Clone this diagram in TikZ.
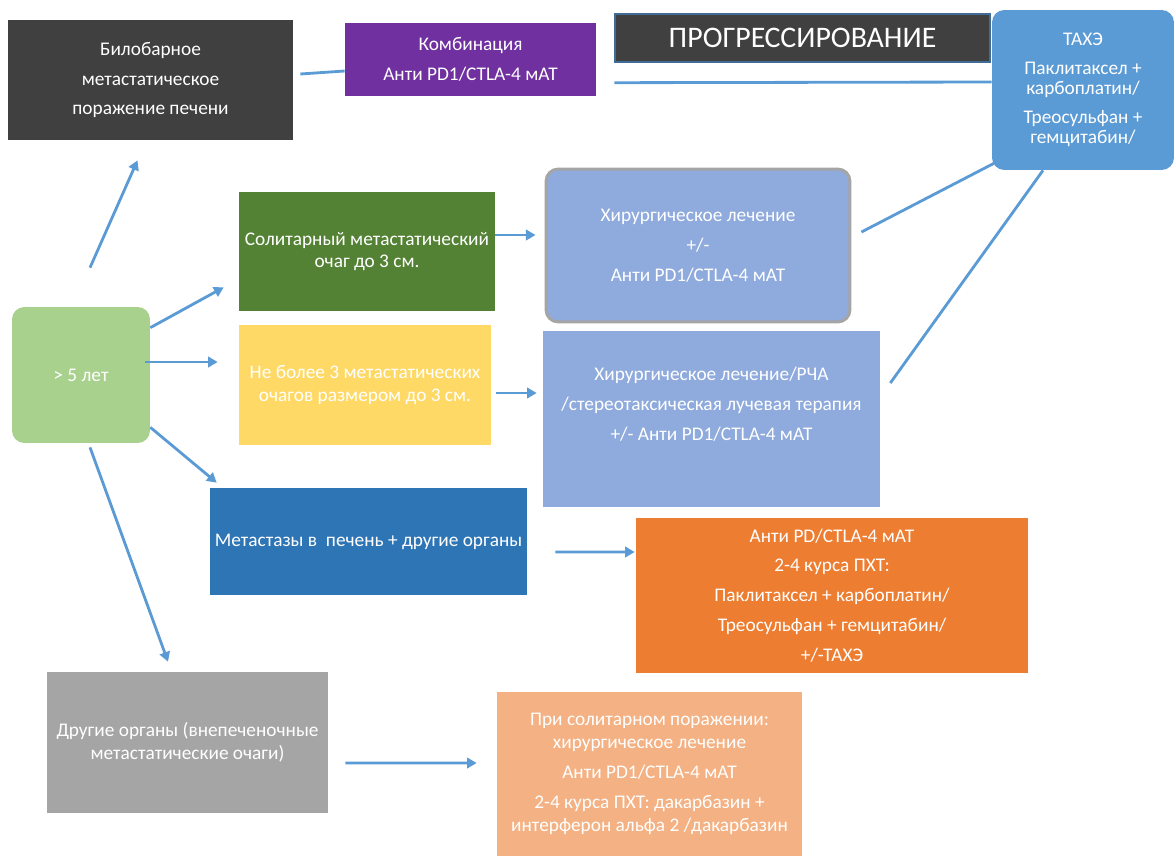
\documentclass[tikz,border=0pt]{standalone}
\usepackage{fontspec}
\setmainfont{Carlito}
\usetikzlibrary{arrows.meta,calc}

\definecolor{darkgrey}{HTML}{404040}
\definecolor{violet}{HTML}{7030A0}
\definecolor{taxeblue}{HTML}{5B9BD5}
\definecolor{lightgreen}{HTML}{A9D18E}
\definecolor{darkgreen}{HTML}{548235}
\definecolor{gold}{HTML}{FFD966}
\definecolor{paleblue}{HTML}{8FAADC}
\definecolor{midblue}{HTML}{2E75B6}
\definecolor{orangebox}{HTML}{ED7D31}
\definecolor{greybox}{HTML}{A5A5A5}
\definecolor{peach}{HTML}{F4B183}
\definecolor{arrowblue}{HTML}{5B9BD5}

\begin{document}
\begin{tikzpicture}[
  x={(0.02cm,0cm)}, y={(0cm,-0.02cm)},
  box/.style={rectangle, inner sep=2pt, align=center, text=white,
    font=\fontsize{11}{13}\selectfont},
  rbox/.style={box, rounded corners=7pt},
  arr/.style={-{Triangle[length=5.5pt,width=6pt]}, line width=1.6pt, arrowblue},
  ln/.style={line width=1.6pt, arrowblue}
]
\useasboundingbox (0,0) rectangle (1176,856);

% --- top row ---
\node[box, fill=darkgrey, minimum width=5.7cm, minimum height=2.4cm] (bilo) at (150.5,80)
  {Билобарное\\[4pt]метастатическое\\[4pt]поражение печени};
\node[box, fill=violet, minimum width=5.02cm, minimum height=1.46cm] (komb) at (470.5,59.5)
  {Комбинация\\[4pt]Анти PD1/CTLA-4 мАТ};
\node[box, fill=darkgrey, draw=taxeblue!70!black, line width=0.8pt,
  minimum width=7.5cm, minimum height=0.96cm, font=\fontsize{17}{19}\selectfont] (prog) at (802.5,38)
  {ПРОГРЕССИРОВАНИЕ};
\node[rbox, fill=taxeblue, minimum width=3.64cm, minimum height=3.2cm,
  font=\fontsize{11}{11.5}\selectfont] (taxe) at (1083,90)
  {ТАХЭ\\[5pt]Паклитаксел +\\карбоплатин/\\[5pt]Треосульфан +\\гемцитабин/};

% --- left column ---
\node[rbox, fill=lightgreen, minimum width=2.76cm, minimum height=2.72cm] (age) at (81,375)
  {> 5 лет};
\node[box, fill=darkgreen, minimum width=5.12cm, minimum height=2.38cm] (soli) at (367,251.5)
  {Солитарный метастатический\\очаг до 3 см.};
\node[box, fill=gold, minimum width=5.04cm, minimum height=2.4cm] (few) at (365,385)
  {Не более 3 метастатических\\очагов размером до 3 см.};
\node[box, fill=midblue, minimum width=6.34cm, minimum height=2.14cm] (meta) at (368.5,541.5)
  {Метастазы в~~печень + другие органы};
\node[box, fill=greybox, minimum width=5.62cm, minimum height=2.82cm] (other) at (187.5,742.5)
  {Другие органы (внепеченочные\\метастатические очаги)};

% --- treatment boxes ---
\node[rbox, fill=paleblue, draw=greybox, line width=1.7pt,
  minimum width=6.08cm, minimum height=3.06cm] (surg) at (698,245.5)
  {Хирургическое лечение\\[4pt]+/-\\[4pt]Анти PD1/CTLA-4 мАТ};
\node[box, fill=paleblue, minimum width=6.74cm, minimum height=3.52cm] (rfa) at (711.5,419)
  {Хирургическое лечение/РЧА\\[4pt]/стереотаксическая лучевая терапия\\[4pt]+/- Анти PD1/CTLA-4 мАТ\\[4pt]\mbox{}};
\node[box, fill=orangebox, minimum width=7.84cm, minimum height=3.1cm] (chemo) at (832,595.5)
  {Анти PD/CTLA-4 мАТ\\[4pt]2-4 курса ПХТ:\\[4pt]Паклитаксел + карбоплатин/\\[4pt]Треосульфан + гемцитабин/\\[4pt]+/-ТАХЭ};
\node[box, fill=peach, minimum width=6.1cm, minimum height=3.28cm] (solo) at (649.5,774)
  {При солитарном поражении:\\хирургическое лечение\\[4pt]Анти PD1/CTLA-4 мАТ\\[4pt]2-4 курса ПХТ: дакарбазин +\\интерферон альфа 2 /дакарбазин};

% --- arrows from > 5 лет ---
\draw[arr] ($(age.north)+(9,-39)$) -- ($(bilo.south)+(-13,20)$);
\draw[arr] ($(age.north east)+(0,21)$) -- ($(soli.south west)+(-15,-24)$);
\draw[arr] ($(age.east)+(-5,-13)$) -- ($(few.west)+(-21,-23)$);
\draw[arr] ($(age.south east)+(0,-16)$) -- ($(meta.north west)+(7,-5)$);
\draw[arr] ($(age.south)+(9,4)$) -- ($(other.north)+(-19.5,-10)$);

% --- arrows to treatment ---
\draw[arr] ($(soli.east)+(0,-16.5)$) -- ($(surg.west)+(-9,-10.5)$);
\draw[arr] ($(few.east)+(5,8)$) -- ($(rfa.west)+(-6,-26)$);
\draw[arr] ($(meta.east)+(28,10.5)$) -- ($(chemo.west)+(-1,-43.5)$);
\draw[arr] ($(other.east)+(17,20.5)$) -- ($(solo.west)+(-20,-11)$);

% --- plain lines ---
\draw[ln] ($(bilo.east)+(7,-6)$) -- ($(komb.west)+(0,11.5)$);
\draw[ln] ($(prog.south west)+(0,20)$) -- ($(taxe.west)+(0,-8)$);
\draw[ln] ($(surg.east)+(10,-13.5)$) -- ($(taxe.south west)+(8,-10)$);
\draw[ln] ($(rfa.east)+(10,-36)$) -- ($(taxe.south)+(-40,0)$);

\end{tikzpicture}
\end{document}
